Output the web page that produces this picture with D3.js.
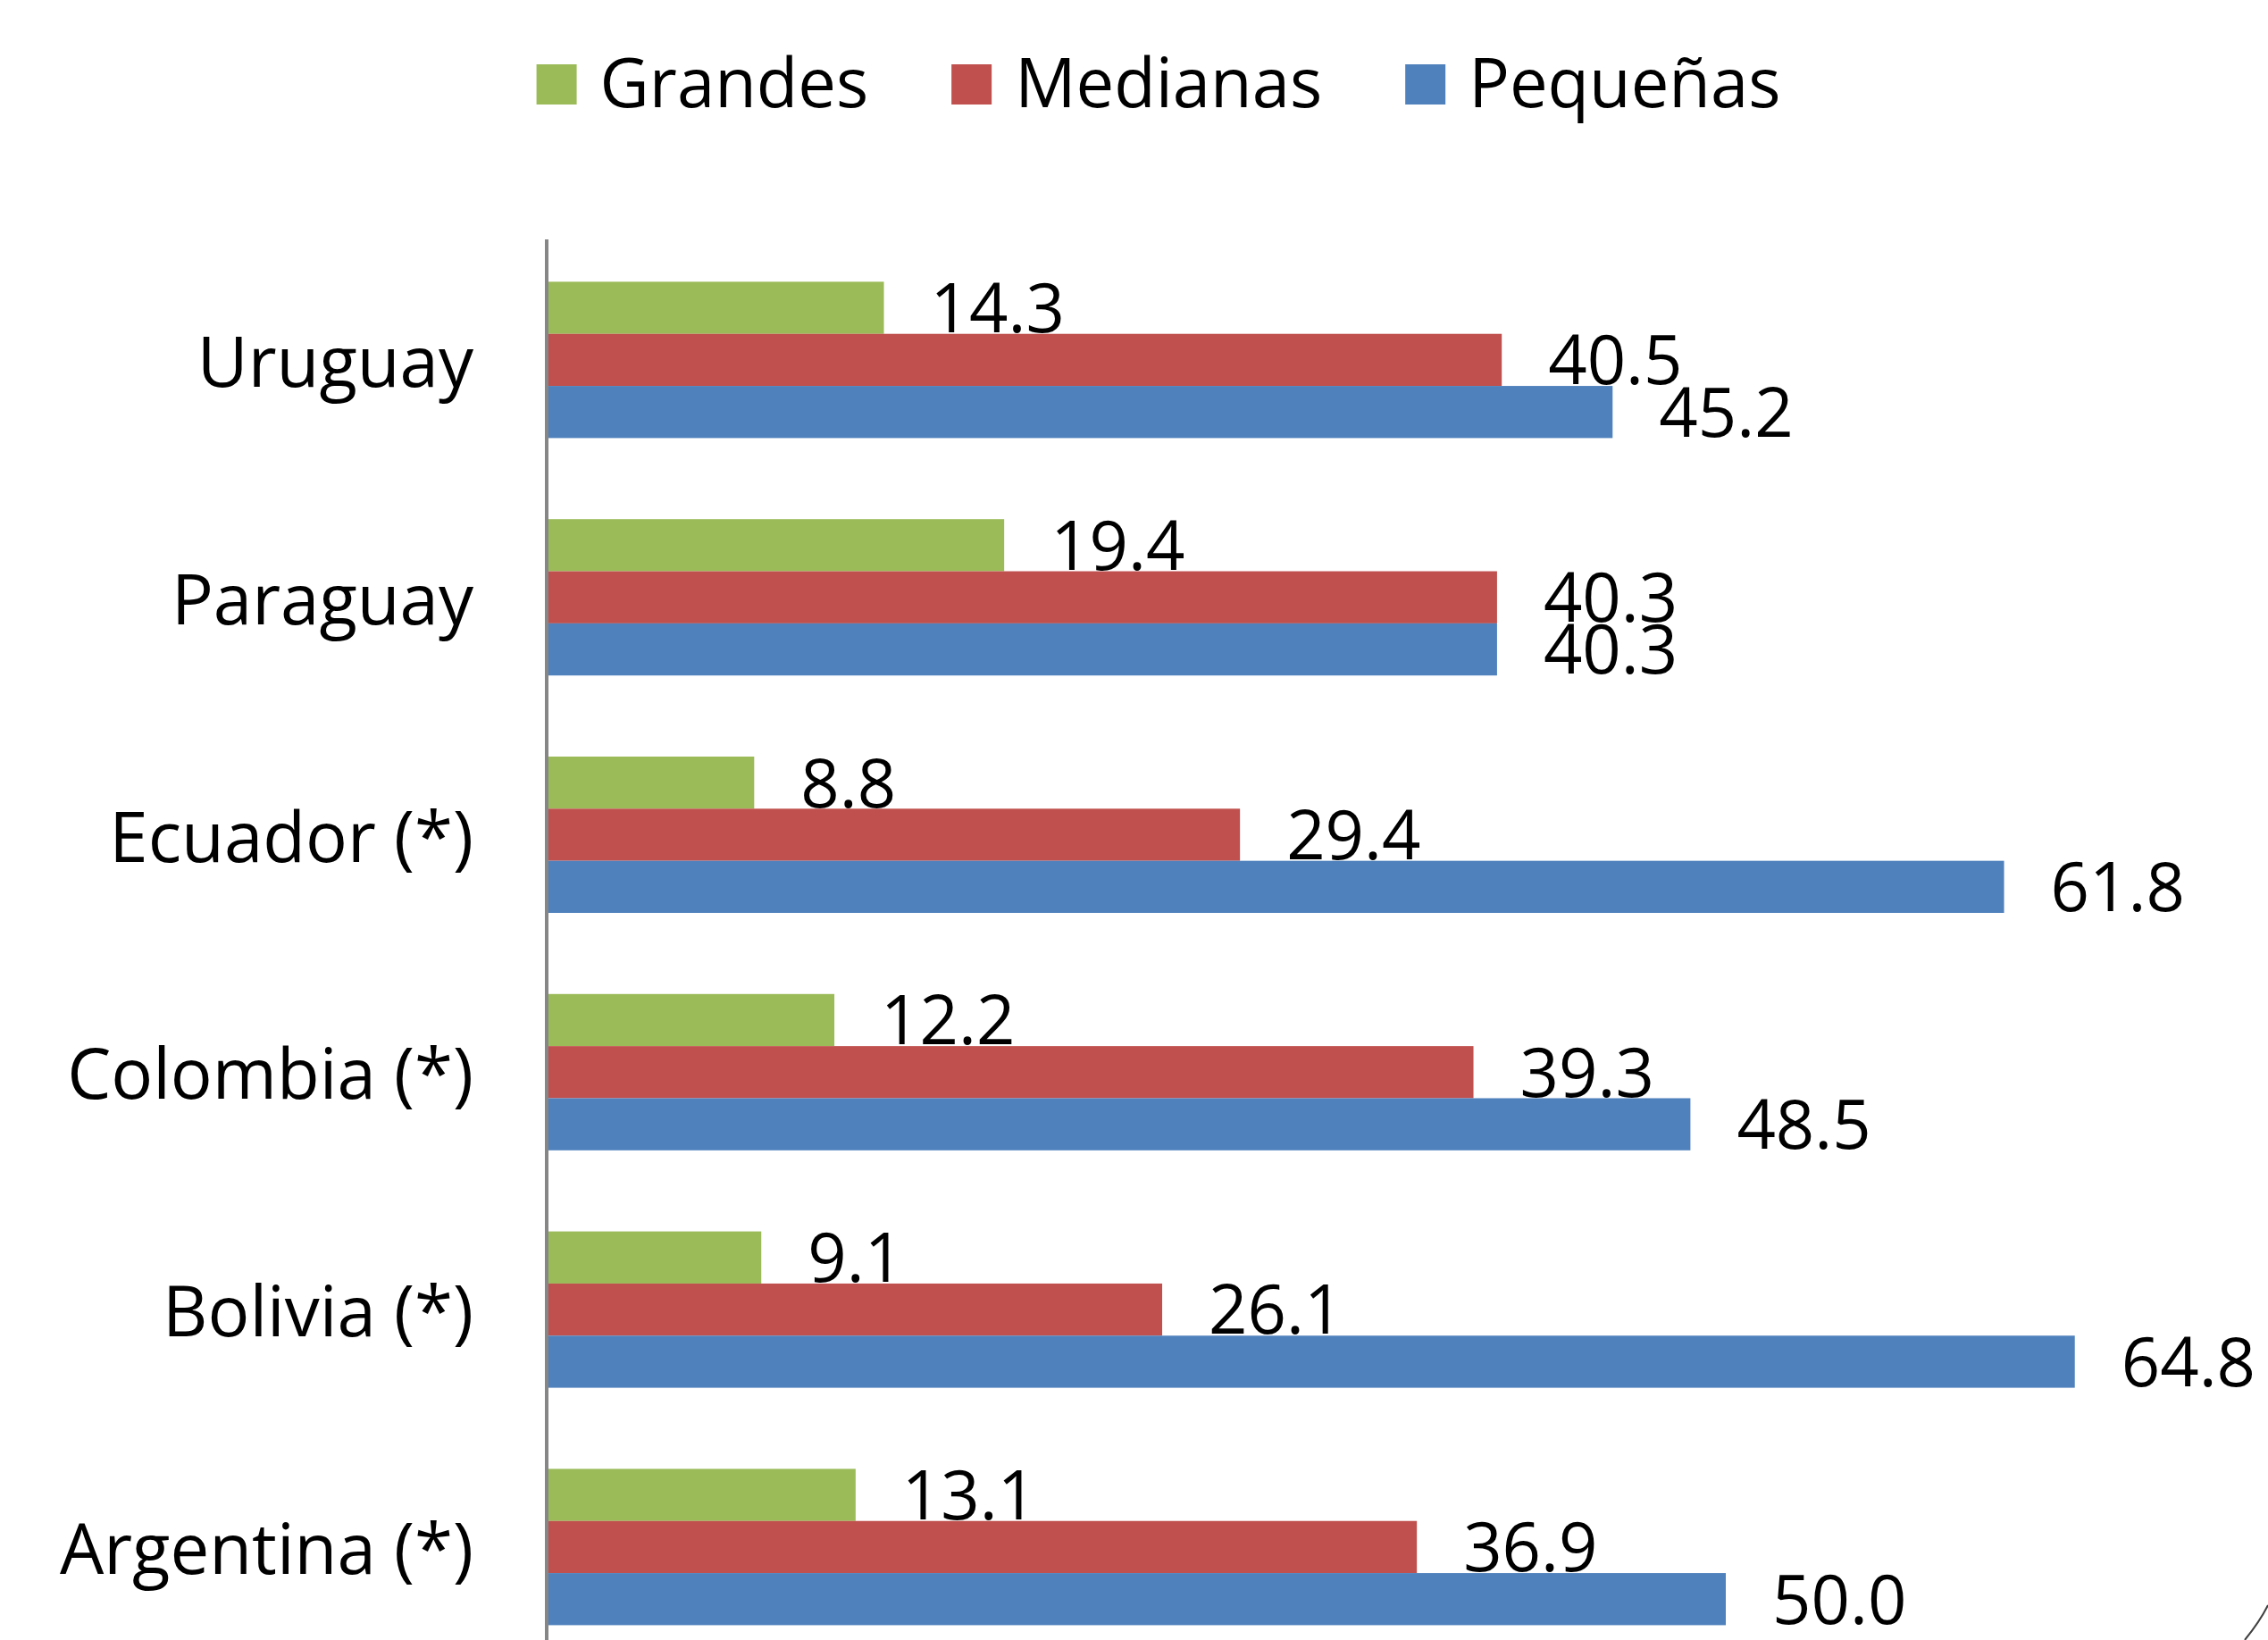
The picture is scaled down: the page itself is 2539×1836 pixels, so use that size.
<!DOCTYPE html>
<html>
<head>
<meta charset="utf-8">
<script src="https://cdn.jsdelivr.net/npm/d3@7"></script>
<style>
  html, body { margin: 0; padding: 0; background: #ffffff; }
  svg { display: block; }
  text { font-family: "Open Sans", "Noto Sans", sans-serif; fill: #000; }
</style>
</head>
<body>
<svg id="chart" width="2539" height="1836"></svg>
<script>
// ---- data ----
const countries = ["Uruguay", "Paraguay", "Ecuador (*)", "Colombia (*)", "Bolivia (*)", "Argentina (*)"];
const seriesNames = ["Grandes", "Medianas", "Pequeñas"];
const grandes  = [14.3, 19.4, 8.8, 12.2, 9.1, 13.1];
const medianas = [40.5, 40.3, 29.4, 39.3, 26.1, 36.9];
const pequenas = [45.2, 40.3, 61.8, 48.5, 64.8, 50.0];
const seriesColors = ["#9BBB59", "#C0504D", "#4F81BD"];

const seriesValues = [grandes, medianas, pequenas];

const svg = d3.select("#chart");
const W = 2539, H = 1836;

// ---- scales ----
const axisX = 612;
const x = d3.scaleLinear().domain([0, 70]).range([axisX, axisX + 70 * 26.4]);
const step = 265.8;
const y0 = d3.scaleBand()
  .domain(countries)
  .range([270, 270 + step * countries.length])
  .paddingInner(0.3416)
  .paddingOuter(0.1708);
const y1 = d3.scaleBand()
  .domain(seriesNames)
  .range([0, y0.bandwidth()])
  .padding(0);

const rows = countries.map((c, i) => ({
  country: c,
  values: seriesNames.map((s, j) => ({ series: s, value: seriesValues[j][i], color: seriesColors[j] }))
}));

// ---- bars ----
const groups = svg.append("g").selectAll("g")
  .data(rows).join("g")
  .attr("transform", d => `translate(0,${y0(d.country)})`);

groups.selectAll("rect")
  .data(d => d.values).join("rect")
  .attr("x", x(0))
  .attr("y", d => y1(d.series))
  .attr("width", d => x(d.value) - x(0))
  .attr("height", y1.bandwidth())
  .attr("fill", d => d.color);

// ---- data labels ----
const fmt = d3.format(".1f");
const labelSize = 76;
groups.selectAll("text")
  .data(d => d.values).join("text")
  .attr("x", d => x(d.value) + 52)
  .attr("y", d => y1(d.series) + y1.bandwidth() / 2 + labelSize * 0.36)
  .attr("font-size", labelSize)
  .text(d => fmt(d.value));

// ---- category axis ----
const yAxis = d3.axisLeft(y0).tickSize(0).tickPadding(82);
const gAxis = svg.append("g")
  .attr("transform", `translate(${axisX},0)`)
  .call(yAxis);
gAxis.select(".domain").remove();
gAxis.selectAll("text")
  .attr("font-size", 78)
  .attr("dy", null)
  .attr("dominant-baseline", "central")
  .style("font-family", '"Open Sans", "Noto Sans", sans-serif')
  .attr("fill", "#000");

svg.append("line")
  .attr("x1", axisX).attr("x2", axisX)
  .attr("y1", 268).attr("y2", H)
  .attr("stroke", "#868686")
  .attr("stroke-width", 4);

// ---- legend ----
const legendSize = 76;
const legend = svg.append("g");
const items = legend.selectAll("g").data(seriesNames).join("g");
items.append("rect")
  .attr("width", 45).attr("height", 45)
  .attr("y", 72)
  .attr("fill", (d, i) => seriesColors[i]);
items.append("text")
  .attr("x", 71)
  .attr("y", 120)
  .attr("font-size", legendSize)
  .text(d => d);
let cx = 0;
const offsets = [];
items.each(function (d, i) {
  const tw = d3.select(this).select("text").node().getComputedTextLength();
  offsets.push(cx);
  cx += 71 + tw + 93;
});
const totalW = cx - 93;
const startX = 1297 - totalW / 2;
items.attr("transform", (d, i) => `translate(${startX + offsets[i]},0)`);

// ---- chart frame corner (bottom-right) ----
svg.append("path")
  .attr("d", "M2513,1836 Q2530,1815 2539,1797")
  .attr("fill", "none")
  .attr("stroke", "#404040")
  .attr("stroke-width", 2);
</script>
</body>
</html>
